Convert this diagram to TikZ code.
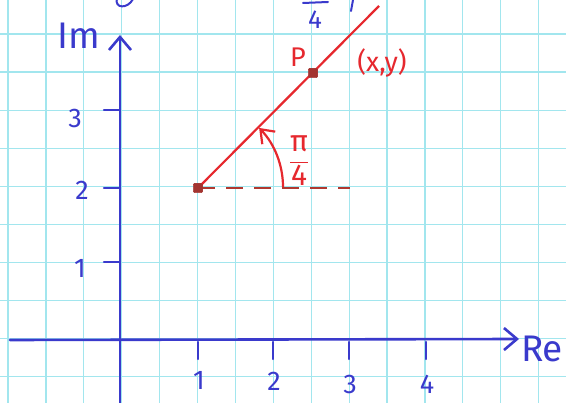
\documentclass[tikz,border=0pt]{standalone}
\usepackage{fontspec}
\setmainfont{Fira Sans}
\usetikzlibrary{arrows.meta}
\definecolor{ink}{HTML}{3A3ACC}
\definecolor{redink}{HTML}{E6282E}
\definecolor{dotred}{HTML}{A33430}
\definecolor{dashred}{HTML}{B0382F}
\definecolor{gridc}{HTML}{A2E6EE}
\tikzset{
  gridline/.style={draw=gridc, line width=1.2pt},
  axis/.style={draw=ink, line width=2.6pt, line cap=round},
  tick/.style={draw=ink, line width=2.4pt, line cap=round},
  bluelabel/.style={text=ink, inner sep=0pt, font=\fontsize{27}{29}\selectfont},
  biglabel/.style={text=ink, inner sep=0pt, font=\fontsize{37}{39}\selectfont},
  redlabel/.style={text=redink, inner sep=0pt, font=\fontsize{27}{29}\selectfont},
  redline/.style={draw=redink, line width=2.2pt},
  dashline/.style={draw=dashred, line width=2.2pt, dash pattern=on 17pt off 11pt},
  ptdot/.style={fill=dotred, draw=dotred, rounded corners=1pt, minimum size=9pt, inner sep=0pt},
  barb/.style={-{Straight Barb[length=13pt,width=22pt,line width=2.6pt]}}
}
\begin{document}
\begin{tikzpicture}[x=1pt,y=-1pt]
\useasboundingbox (0,0) rectangle (566,403);
\clip (0,0) rectangle (566,403);
\fill[white] (0,0) rectangle (566,403);
% grid
\foreach \i in {0,...,14} \draw[gridline] ({8+37.9*\i},0) -- ({8+37.9*\i},403);
\foreach \j in {-1,...,9} \draw[gridline] (0,{34+38.1*\j}) -- (566,{34+38.1*\j});
% axes
\coordinate (xl) at (10,340);
\coordinate (xr) at (519,339);
\coordinate (yb) at (120,410);
\coordinate (yt) at (120,35);
\draw[axis,barb] (xl) -- (xr);
\draw[axis,barb] (yb) -- (yt);
% x ticks
\foreach \x/\l/\ly in {198/1/380,273/2/381,349/3/384,426/4/384}{
  \coordinate (tx\l) at (\x,342);
  \coordinate (bx\l) at (\x,359);
  \draw[tick] (tx\l) -- (bx\l);
  \node[bluelabel] (lx\l) at (\x+1,\ly) {\l};
}
% y ticks
\foreach \y/\l/\lx/\ly in {262/1/80/268,188/2/82/190,110/3/75/118}{
  \coordinate (ty\l) at (104,\y);
  \coordinate (by\l) at (120,\y);
  \draw[tick] (ty\l) -- (by\l);
  \node[bluelabel] (ly\l) at (\lx,\ly) {\l};
}
\node[biglabel] (im) at (79,36) {Im};
\node[biglabel] (re) at (542,349) {Re};
% top fragments
\node[bluelabel, font=\fontsize{26}{28}\selectfont] (top4) at (315,20) {4};
\coordinate (tb1) at (303,3);
\coordinate (tb2) at (328,2);
\draw[tick, line width=2pt] (tb1) -- (tb2);
\coordinate (ts1) at (353,0);
\coordinate (ts2) at (351,11);
\draw[tick, line width=2pt] (ts1) -- (ts2);
\coordinate (tc1) at (117,-2);
\coordinate (tc2) at (133,-1);
\draw[tick, line width=2pt] (tc1) .. controls (114,9) and (128,9) .. (tc2);
% red construction
\node[ptdot] (A) at (198,188) {};
\node[ptdot] (P) at (313,73) {};
\coordinate (T) at (379,6);
\coordinate (D) at (350,188);
\draw[dashline] (A.center) -- (D);
\draw[redline] (A.center) -- (T);
\node[ptdot] at (A) {};
\node[ptdot] at (P) {};
\coordinate (arcstart) at (283,187);
\draw[redline, -{Straight Barb[length=12pt,width=18pt,line width=2.2pt]}] (arcstart) arc[start angle=0, end angle=-44, radius=85];
\node[redlabel] (plab) at (298,57) {P};
\node[redlabel] (xy) at (382,63) {(x,y)};
\node[text=redink, inner sep=0pt, font=\fontsize{30}{32}\selectfont] (ang) at (299,161) {$\displaystyle\frac{\hbox{π}}{\hbox{4}}$};
\end{tikzpicture}
\end{document}
